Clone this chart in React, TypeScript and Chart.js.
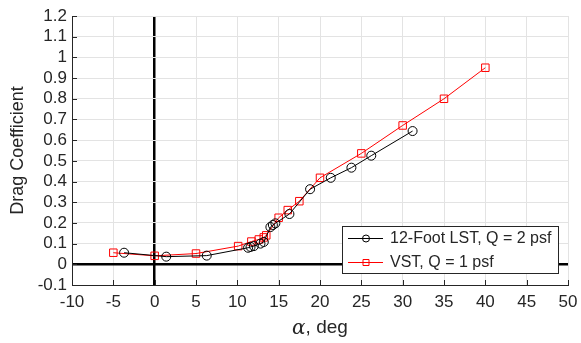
import React, { useEffect, useRef } from "react";
import { Chart, registerables } from "chart.js";

Chart.register(...registerables);

// ---- data ----
const lstAlpha = [-3.7, 1.4, 6.3, 11.3, 11.6, 12.0, 12.8, 13.2, 14.0, 14.3, 14.6, 16.3, 18.8, 21.3, 23.8, 26.2, 31.2];
const lstCd = [0.056, 0.037, 0.042, 0.08, 0.084, 0.088, 0.1, 0.108, 0.18, 0.19, 0.198, 0.243, 0.363, 0.418, 0.467, 0.525, 0.644];

const vstAlpha = [-5, 0, 5, 10.1, 11.7, 12.6, 13.2, 13.5, 15, 16.1, 17.5, 20, 25, 30, 35, 40];
const vstCd = [0.056, 0.041, 0.052, 0.088, 0.11, 0.12, 0.13, 0.14, 0.225, 0.262, 0.305, 0.418, 0.536, 0.671, 0.8, 0.95];

const seriesLabels = ["12-Foot LST, Q = 2 psf", "VST, Q = 1 psf"];
const seriesColors = ["#000000", "#ff0000"];

const xMin = -10;
const xMax = 50;
const xStep = 5;
const yMin = -0.1;
const yMax = 1.2;
const yStep = 0.1;

const xTitleSymbol = "α";
const xTitleRest = ", deg";
const yTitle = "Drag Coefficient";

const FONT = "'Liberation Sans', Arial, Helvetica, sans-serif";
const AXIS_COLOR = "#262626";
const GRID_COLOR = "#e3e3e3";

const isZero = (v: number) => Math.abs(v) < 1e-9;

const decorPlugin = {
  id: "decor",
  afterDraw(chart: any) {
    const ctx = chart.ctx as CanvasRenderingContext2D;
    const area = chart.chartArea;
    const xs = chart.scales.x;
    const ys = chart.scales.y;
    ctx.save();
    // inward ticks
    ctx.strokeStyle = AXIS_COLOR;
    ctx.lineWidth = 1;
    ctx.beginPath();
    xs.ticks.forEach((t: any) => {
      const px = Math.round(xs.getPixelForValue(t.value)) + 0.5;
      ctx.moveTo(px, area.bottom);
      ctx.lineTo(px, area.bottom - 5);
    });
    ys.ticks.forEach((t: any) => {
      const py = Math.round(ys.getPixelForValue(t.value)) + 0.5;
      ctx.moveTo(area.left, py);
      ctx.lineTo(area.left + 5, py);
    });
    ctx.stroke();

    // y title
    ctx.fillStyle = AXIS_COLOR;
    ctx.font = `18px ${FONT}`;
    ctx.textAlign = "center";
    ctx.textBaseline = "middle";
    ctx.save();
    ctx.translate(18, (area.top + area.bottom) / 2);
    ctx.rotate(-Math.PI / 2);
    ctx.fillText(yTitle, 0, 0);
    ctx.restore();

    // x title
    const symFont = `italic 20px 'DejaVu Serif', 'Liberation Serif', serif`;
    const restFont = `19px ${FONT}`;
    ctx.font = symFont;
    const w1 = ctx.measureText(xTitleSymbol).width;
    ctx.font = restFont;
    const w2 = ctx.measureText(xTitleRest).width;
    const cx = (area.left + area.right) / 2;
    const ty = 328;
    const sx = cx - (w1 + w2) / 2;
    ctx.textAlign = "left";
    ctx.textBaseline = "middle";
    ctx.font = symFont;
    ctx.fillText(xTitleSymbol, sx, ty + 1);
    ctx.font = restFont;
    ctx.fillText(xTitleRest, sx + w1, ty);

    // legend
    const bx1 = area.right - 226;
    const bx2 = area.right - 10;
    const by1 = area.bottom - 59;
    const by2 = area.bottom - 12;
    ctx.fillStyle = "#ffffff";
    ctx.fillRect(bx1, by1, bx2 - bx1, by2 - by1);
    ctx.strokeStyle = AXIS_COLOR;
    ctx.lineWidth = 1;
    ctx.strokeRect(Math.round(bx1) + 0.5, Math.round(by1) + 0.5, bx2 - bx1, by2 - by1);
    const rows = [by1 + 11.5, by1 + 35.5];
    chart.data.datasets.forEach((ds: any, i: number) => {
      const ry = Math.round(rows[i]) + 0.5;
      ctx.strokeStyle = ds.borderColor;
      ctx.lineWidth = 1;
      ctx.beginPath();
      ctx.moveTo(bx1 + 6, ry);
      ctx.lineTo(bx1 + 41, ry);
      ctx.stroke();
      const mx = bx1 + 24;
      ctx.beginPath();
      if (ds.pointStyle === "circle") {
        ctx.arc(mx, ry, 3.5, 0, Math.PI * 2);
      } else {
        ctx.rect(mx - 3, ry - 3, 6, 6);
      }
      ctx.stroke();
      ctx.fillStyle = AXIS_COLOR;
      ctx.font = `16px ${FONT}`;
      ctx.textAlign = "left";
      ctx.textBaseline = "middle";
      ctx.fillText(ds.label, bx1 + 48, ry + 0.5);
    });
    ctx.restore();
  },
};

export default function App() {
  const canvasRef = useRef<HTMLCanvasElement | null>(null);

  useEffect(() => {
    document.body.style.margin = "0";
    const canvas = canvasRef.current;
    if (!canvas) return;
    const chart = new Chart(canvas, {
      type: "line",
      data: {
        datasets: [
          {
            label: seriesLabels[0],
            data: lstAlpha.map((a, i) => ({ x: a, y: lstCd[i] })),
            borderColor: seriesColors[0],
            backgroundColor: "rgba(0,0,0,0)",
            borderWidth: 1,
            pointStyle: "circle",
            pointRadius: 4.5,
            pointBorderWidth: 1,
            pointBorderColor: seriesColors[0],
            pointBackgroundColor: "rgba(0,0,0,0)",
            tension: 0,
          },
          {
            label: seriesLabels[1],
            data: vstAlpha.map((a, i) => ({ x: a, y: vstCd[i] })),
            borderColor: seriesColors[1],
            backgroundColor: "rgba(0,0,0,0)",
            borderWidth: 1,
            pointStyle: "rect",
            pointRadius: 5.3,
            pointBorderWidth: 1,
            pointBorderColor: seriesColors[1],
            pointBackgroundColor: "rgba(0,0,0,0)",
            tension: 0,
          },
        ],
      },
      options: {
        animation: false,
        responsive: true,
        maintainAspectRatio: false,
        layout: { padding: { top: 16, right: 13, left: 0, bottom: 0 } },
        plugins: {
          legend: { display: false },
          tooltip: { enabled: false },
          title: { display: false },
        },
        scales: {
          x: {
            type: "linear",
            min: xMin,
            max: xMax,
            ticks: {
              stepSize: xStep,
              color: AXIS_COLOR,
              font: { family: FONT, size: 17 },
              padding: 7,
              maxRotation: 0,
              autoSkip: false,
            },
            grid: {
              drawTicks: false,
              color: (c: any) => (c.tick && isZero(c.tick.value) ? "#000000" : GRID_COLOR),
              lineWidth: (c: any) => (c.tick && isZero(c.tick.value) ? 2.5 : 1),
            },
            border: { display: true, color: AXIS_COLOR, width: 1 },
            afterFit: (s: any) => {
              s.height = 58;
              s.paddingLeft = 0;
              s.paddingRight = 0;
            },
          },
          y: {
            type: "linear",
            min: yMin,
            max: yMax,
            ticks: {
              stepSize: yStep,
              color: AXIS_COLOR,
              font: { family: FONT, size: 17 },
              padding: 5,
              autoSkip: false,
              callback: (v: any) => Number(Number(v).toFixed(1)).toString(),
            },
            grid: {
              drawTicks: false,
              color: (c: any) => (c.tick && isZero(c.tick.value) ? "#000000" : GRID_COLOR),
              lineWidth: (c: any) => (c.tick && isZero(c.tick.value) ? 2.5 : 1),
            },
            border: { display: true, color: AXIS_COLOR, width: 1 },
            afterFit: (s: any) => {
              s.width = 72;
              s.paddingTop = 0;
              s.paddingBottom = 0;
            },
          },
        },
      },
      plugins: [decorPlugin],
    });
    return () => chart.destroy();
  }, []);

  return (
    <div style={{ position: "fixed", left: 0, top: 0, width: 581, height: 343, background: "#fff" }}>
      <canvas ref={canvasRef} />
    </div>
  );
}
